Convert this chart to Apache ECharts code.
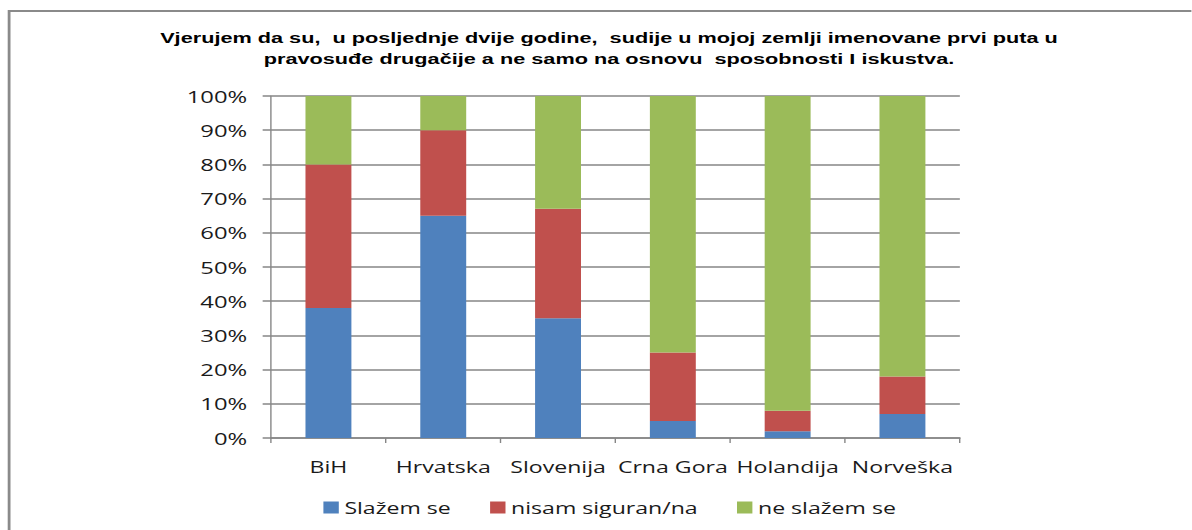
<!DOCTYPE html>
<html>
<head>
<meta charset="utf-8">
<script src="https://cdn.jsdelivr.net/npm/echarts@6/dist/echarts.min.js"></script>
<style>
  html, body { margin: 0; padding: 0; background: #fff; overflow: hidden; }
  /* the original picture is a horizontally stretched export, so the chart is drawn narrower and widened */
  #chart {
    width: 851px;
    height: 530px;
    transform: scaleX(1.4);
    transform-origin: 0 0;
  }
</style>
</head>
<body>
<div id="chart"></div>
<script>
const countries = ['BiH', 'Hrvatska', 'Slovenija', 'Crna Gora', 'Holandija', 'Norveška']
const slazemSe = [38, 65, 35, 5, 2, 7]
const nisamSiguran = [42, 25, 32, 20, 6, 11]
const neSlazemSe = [20, 10, 33, 75, 92, 82]
const yTicks = [0, 10, 20, 30, 40, 50, 60, 70, 80, 90, 100]

const chart = echarts.init(document.getElementById('chart'), null, { renderer: 'svg' })
const labelFont = '"Open Sans", "Noto Sans", sans-serif'

const option = {
  animation: false,
  title: {
    text: 'Vjerujem da su,  u posljednje dvije godine,  sudije u mojoj zemlji imenovane prvi puta u\npravosuđe drugačije a ne samo na osnovu  sposobnosti I iskustva.',
    left: 430,
    textAlign: 'center',
    top: 22,
    textStyle: {
      fontFamily: '"Liberation Sans", Arial, sans-serif',
      fontWeight: 'bold',
      fontSize: 15.5,
      lineHeight: 21,
      color: '#000'
    }
  },
  graphic: [{
    type: 'rect',
    shape: { x: 6.5, y: 11, width: 900, height: 540 },
    style: { fill: 'none', stroke: '#8a8a8a', lineWidth: 2 },
    silent: true
  }],
  legend: {
    top: 494,
    left: 226,
    itemWidth: 11,
    itemHeight: 12,
    itemGap: 28,
    icon: 'rect',
    textStyle: { fontFamily: labelFont, fontSize: 16.5, color: '#1a1a1a', padding: [0, 0, 0, -1] },
    data: ['Slažem se', 'nisam siguran/na', 'ne slažem se']
  },
  grid: { left: 193.6, right: 165.4, top: 96, height: 342 },
  xAxis: {
    type: 'category',
    data: countries,
    axisLine: { lineStyle: { color: '#868686', width: 1.5 } },
    axisTick: { show: true, length: 5, lineStyle: { color: '#868686', width: 1 } },
    axisLabel: { interval: 0, fontFamily: labelFont, fontSize: 16.5, color: '#1a1a1a', margin: 20 }
  },
  yAxis: {
    type: 'value',
    min: 0,
    max: 100,
    interval: 10,
    axisLine: { show: true, lineStyle: { color: '#868686', width: 1 } },
    axisTick: { show: true, length: 6, lineStyle: { color: '#868686', width: 1.5 } },
    splitLine: { lineStyle: { color: '#868686', width: 1.5 } },
    axisLabel: {
      fontFamily: labelFont,
      fontSize: 17,
      color: '#1a1a1a',
      margin: 17,
      formatter: v => (yTicks.includes(v) ? v + '%' : '')
    }
  },
  series: [
    {
      name: 'Slažem se',
      type: 'bar',
      stack: 'total',
      barWidth: '40%',
      itemStyle: { color: '#4f81bd' },
      data: slazemSe
    },
    {
      name: 'nisam siguran/na',
      type: 'bar',
      stack: 'total',
      itemStyle: { color: '#c0504d' },
      data: nisamSiguran
    },
    {
      name: 'ne slažem se',
      type: 'bar',
      stack: 'total',
      itemStyle: { color: '#9bbb59' },
      data: neSlazemSe
    }
  ]
}

chart.setOption(option)
</script>
</body>
</html>
